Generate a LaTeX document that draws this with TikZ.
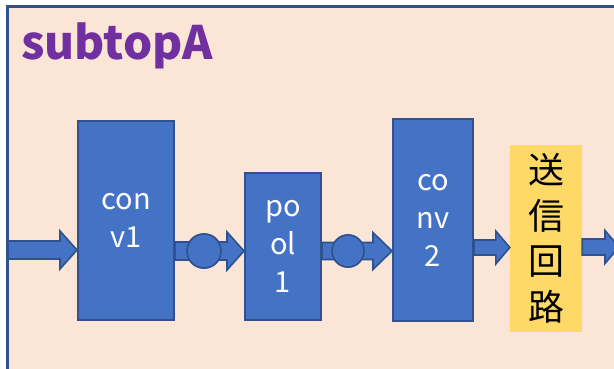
\documentclass[tikz,border=0pt]{standalone}
\usepackage{fontspec}
\usetikzlibrary{calc}
\newfontfamily\jp{Noto Sans CJK JP}
\definecolor{peach}{HTML}{FBE5D6}
\definecolor{blockfill}{HTML}{4472C4}
\definecolor{blockline}{HTML}{2F528F}
\definecolor{titlepurple}{HTML}{7030A0}
\definecolor{txyellow}{HTML}{FFD966}
\tikzset{
  layerbox/.style={draw=blockline, line width=2pt, fill=blockfill, inner sep=0pt,
    text=white, align=center, font=\jp\fontsize{29}{38}\selectfont},
  txbox/.style={fill=txyellow, inner sep=0pt, text=black, align=center,
    font=\jp\fontsize{36}{45.5}\selectfont},
  arrowbody/.style={draw=blockline, line width=1.6pt, fill=blockfill, line join=miter},
  joint/.style={circle, draw=blockline, line width=1.6pt, fill=blockfill, inner sep=0pt},
  titletext/.style={text=titlepurple, inner sep=0pt, font=\jp\bfseries\fontsize{46}{46}\selectfont}
}
% block arrow: tail, tip, shaft half-width, head length, head half-width
\newcommand\blockarrow[5]{%
  \draw[arrowbody] let \p1=(#1), \p2=(#2) in
    (\x1,\y2+#3) -- (\x2-#4,\y2+#3) -- (\x2-#4,\y2+#5) -- (\x2,\y2)
    -- (\x2-#4,\y2-#5) -- (\x2-#4,\y2-#3) -- (\x1,\y2-#3) -- cycle;}
\begin{document}
\begin{tikzpicture}[x=1pt, y=-1pt]
  \useasboundingbox (0,0) rectangle (614,368);
  \clip (0,0) rectangle (614,368);
  % frame of the subsystem
  \draw[draw=blockline, line width=2.5pt, fill=peach] (7.3,6.5) rectangle (640,400);
  \node[titletext, anchor=base west] (title) at (21,59) {subtopA};

  % processing blocks
  \node[layerbox, minimum width=96pt, minimum height=199pt] (c1) at (126,220.5) {con\\v1};
  \node[layerbox, minimum width=76pt, minimum height=147pt] (p1) at (283,246.5) {po\\ol\\1};
  \node[layerbox, minimum width=80pt, minimum height=202pt] (c2) at (433,220) {co\\nv\\2};
  \node[txbox, minimum width=72pt, minimum height=187pt] (tx) at (546,238.5) {送\\信\\回\\路};

  % junction points on the data path
  \node[joint, minimum size=34pt] (j1) at (204,251) {};
  \node[joint, minimum size=32pt] (j2) at (348,251) {};

  \coordinate (in) at (8,250);
  \coordinate (out) at (619,247);

  % data flow
  \blockarrow{in}{c1.west |- in}{9pt}{17pt}{19pt}
  \blockarrow{c1.east}{p1.west |- j1}{9pt}{17pt}{19pt}
  \blockarrow{p1.east}{c2.west |- j2}{8.5pt}{19pt}{18.5pt}
  \blockarrow{c2.east}{tx.west |- 0,247.5}{7.5pt}{14pt}{16.5pt}
  \blockarrow{tx.east}{out}{8pt}{14pt}{16.5pt}

  % junctions drawn over the shafts
  \node[joint, minimum size=34pt] at (j1) {};
  \node[joint, minimum size=32pt] at (j2) {};
\end{tikzpicture}
\end{document}
